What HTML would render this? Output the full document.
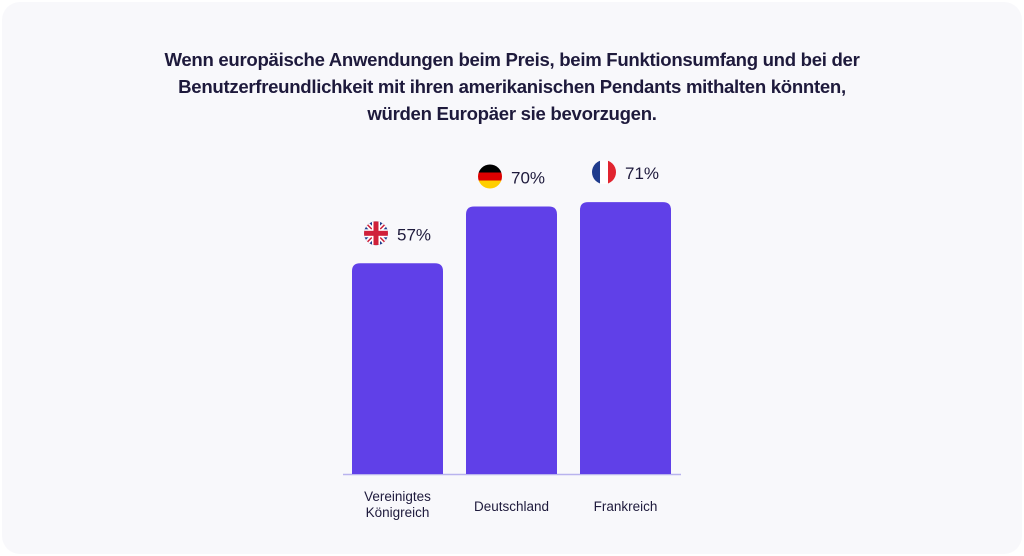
<!DOCTYPE html>
<html><head><meta charset="utf-8"><style>
html,body{margin:0;padding:0;background:#fff;}
body{width:1024px;height:556px;position:relative;overflow:hidden;font-family:"Liberation Sans",sans-serif;}
#card{position:absolute;left:2px;top:2px;width:1020px;height:552px;background:#f8f8fb;border-radius:18px;}
#title{position:absolute;left:0;top:46px;width:1024px;text-align:center;font-weight:bold;font-size:18.6px;line-height:27px;color:#1e1a3c;letter-spacing:-0.3px;}
svg{position:absolute;left:0;top:0;}
</style></head><body>
<div id="card"></div>
<div id="title">Wenn europäische Anwendungen beim Preis, beim Funktionsumfang und bei der<br>Benutzerfreundlichkeit mit ihren amerikanischen Pendants mithalten könnten,<br>würden Europäer sie bevorzugen.</div>
<svg id="chart" width="1024" height="556">
<defs>
<clipPath id="c0"><circle cx="0" cy="0" r="12"/></clipPath>
</defs>
</svg>
<script>
const categories=["Vereinigtes|Königreich","Deutschland","Frankreich"];
const values=[57,70,71];
const valueLabels=["57%","70%","71%"];
const flags=["uk","de","fr"];
const svg=document.getElementById('chart');
const NS='http://www.w3.org/2000/svg';
const base=474, x0=352, step=114, bw=91;
function y(v){return base - (v*4.37-38.4);}
function mk(t,a){const e=document.createElementNS(NS,t);for(const k in a)e.setAttribute(k,a[k]);svg.appendChild(e);return e;}
const ax=mk('line',{x1:343,x2:681,y1:base+0.5,y2:base+0.5,stroke:'#b9b3ee','stroke-width':1.5});


values.forEach((v,i)=>{
  const x=x0+i*step, top=y(v);
  const b=mk('path',{d:`M${x},${base}V${top+8}Q${x},${top} ${x+8},${top}H${x+bw-8}Q${x+bw},${top} ${x+bw},${top+8}V${base}Z`,fill:'#6040e8'});
  
  
  const cx=x+24, cy=top-30;
  const g=document.createElementNS(NS,'g');g.setAttribute('transform',`translate(${cx},${cy})`);svg.appendChild(g);
  
  
  const gg=document.createElementNS(NS,'g');gg.setAttribute('clip-path','url(#c0)');g.appendChild(gg);
  function r(a){const e=document.createElementNS(NS,'rect');for(const k in a)e.setAttribute(k,a[k]);gg.appendChild(e);}
  function l(a){const e=document.createElementNS(NS,'line');for(const k in a)e.setAttribute(k,a[k]);gg.appendChild(e);}
  if(flags[i]=='de'){r({x:-12,y:-12,width:24,height:8,fill:'#000'});r({x:-12,y:-4,width:24,height:8,fill:'#dd0000'});r({x:-12,y:4,width:24,height:8,fill:'#ffce00'});}
  else if(flags[i]=='fr'){r({x:-12,y:-12,width:8,height:24,fill:'#1f3b8c'});r({x:-4,y:-12,width:8,height:24,fill:'#fff'});r({x:4,y:-12,width:8,height:24,fill:'#e1242f'});}
  else{r({x:-12,y:-12,width:24,height:24,fill:'#1f3b8c'});
    l({x1:-12,y1:-12,x2:12,y2:12,stroke:'#fff','stroke-width':5});l({x1:12,y1:-12,x2:-12,y2:12,stroke:'#fff','stroke-width':5});
    l({x1:-12,y1:-12,x2:12,y2:12,stroke:'#d0203a','stroke-width':1.5});l({x1:12,y1:-12,x2:-12,y2:12,stroke:'#d0203a','stroke-width':1.5});
    r({x:-12,y:-4,width:24,height:8,fill:'#fff'});r({x:-4,y:-12,width:8,height:24,fill:'#fff'});
    r({x:-12,y:-2.5,width:24,height:5,fill:'#d0203a'});r({x:-2.5,y:-12,width:5,height:24,fill:'#d0203a'});}
  const t=mk('text',{x:cx+21,y:cy+7,'font-size':17,'font-family':'Liberation Sans, sans-serif',fill:'#1e1a3c'});
  t.textContent=valueLabels[i];
  
  
  const lines=categories[i].split('|');
  const ty=lines.length>1?501:511;
  lines.forEach((s,j)=>{const c=mk('text',{x:x+bw/2,y:ty+j*16,'text-anchor':'middle','font-size':13.5,'font-family':'Liberation Sans, sans-serif',fill:'#1e1a3c'});c.textContent=s;
    
    });
});
</script>
</body></html>
